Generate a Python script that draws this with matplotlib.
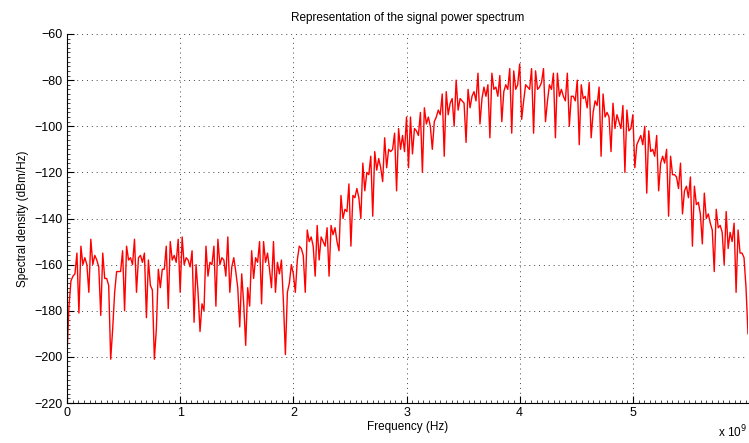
#!/usr/bin/env python
# -*- coding: utf-8 -*-
"""Signal power spectrum, MATLAB-like look"""

import numpy as np
import matplotlib
matplotlib.use("Agg")
import matplotlib.pyplot as plt
from matplotlib.ticker import MultipleLocator, FixedLocator


# spectral density, dBm/Hz, one block per GHz
psd_0_1ghz = [-199, -178, -167, -165, -164, -155, -181, -152, -160, -157, -160, -172, -149, -160, -156,
              -158, -161, -182, -155, -166, -166, -169, -201, -188, -172, -163, -163, -163, -154, -180,
              -152, -158, -157, -160, -149, -172, -157, -156, -159, -155, -183, -158, -169, -171, -201,
              -188, -162, -170, -162, -162, -152, -179, -150, -158, -156, -159, -149]
psd_1_2ghz = [-172, -148, -160, -157, -158, -161, -154, -185, -160, -172, -189, -177, -180, -152, -165,
              -159, -160, -152, -178, -149, -160, -157, -158, -165, -148, -172, -161, -157, -163, -170,
              -187, -164, -177, -195, -170, -178, -154, -166, -157, -159, -150, -177, -150, -159, -155,
              -162, -170, -150, -172, -159, -164, -158, -176, -199, -172, -168, -160]
psd_2_3ghz = [-164, -172, -158, -152, -153, -156, -172, -145, -150, -148, -152, -165, -143, -158, -148,
              -150, -152, -144, -165, -143, -147, -144, -150, -154, -130, -140, -136, -137, -125, -152,
              -130, -131, -127, -131, -140, -116, -128, -120, -121, -113, -139, -111, -119, -114, -118,
              -124, -105, -118, -110, -111, -110, -103, -128, -101, -110, -104, -111]
psd_3_4ghz = [-96, -118, -96, -112, -101, -102, -104, -94, -120, -92, -99, -96, -100, -110, -98,
              -96, -93, -95, -86, -113, -85, -95, -90, -88, -100, -80, -93, -88, -89, -90,
              -107, -84, -92, -87, -85, -89, -77, -99, -88, -83, -87, -82, -105, -77, -84,
              -83, -87, -78, -98, -85, -82, -84, -75, -103, -76, -84, -82]
psd_4_5ghz = [-73, -97, -89, -82, -83, -84, -75, -103, -76, -84, -83, -81, -75, -98, -89,
              -82, -84, -77, -105, -77, -87, -84, -87, -89, -77, -100, -87, -87, -89, -80,
              -108, -82, -88, -87, -92, -81, -105, -94, -89, -91, -83, -113, -86, -96, -94,
              -96, -111, -90, -101, -95, -98, -101, -91, -120, -93, -102, -101]
psd_5_6ghz = [-95, -118, -108, -106, -104, -108, -100, -129, -102, -111, -110, -113, -104, -128, -116,
              -113, -116, -110, -139, -113, -121, -121, -122, -127, -116, -138, -128, -126, -131, -122,
              -152, -126, -134, -133, -138, -151, -129, -140, -138, -142, -145, -163, -136, -144, -143,
              -146, -160, -137, -153, -146, -150, -142, -172, -145, -155, -155, -157, -170, -190]

freq_step = 1e9 / 57  # Hz between samples
x_ticks = [0, 1e9, 2e9, 3e9, 4e9, 5e9]
x_tick_labels = ["0", "1", "2", "3", "4", "5"]
y_ticks = [-220, -200, -180, -160, -140, -120, -100, -80, -60]


def main():
    psd = np.array(psd_0_1ghz + psd_1_2ghz + psd_2_3ghz + psd_3_4ghz + psd_4_5ghz + psd_5_6ghz)
    freq = np.arange(len(psd)) * freq_step

    plt.rcParams["font.family"] = ["Liberation Sans", "DejaVu Sans"]
    plt.rcParams["font.size"] = 9

    fig = plt.figure(figsize=(7.49, 4.43), dpi=100)
    ax = fig.add_axes([67 / 749, 40 / 443, 681 / 749, 369 / 443])

    ax.plot(freq, psd, color="red", linewidth=1.0)

    ax.set_xlim(0, freq[-1])
    ax.set_ylim(-220, -60)
    ax.xaxis.set_major_locator(FixedLocator(x_ticks))
    ax.set_xticklabels(x_tick_labels)
    ax.yaxis.set_major_locator(FixedLocator(y_ticks))
    ax.set_yticklabels(["\u2212" + str(abs(v)) for v in y_ticks])
    ax.xaxis.set_minor_locator(MultipleLocator(0.05e9))
    ax.yaxis.set_minor_locator(MultipleLocator(2))

    ax.tick_params(which="major", direction="in", length=5, width=0.8, labelsize=9, pad=3)
    ax.tick_params(which="minor", direction="in", length=2.5, width=0.5)

    ax.grid(True, which="major", color="#444444", linestyle=(0, (1, 4)), linewidth=0.7)
    for side in ["top", "right"]:
        ax.spines[side].set_visible(False)
    for side in ["left", "bottom"]:
        ax.spines[side].set_linewidth(0.8)

    ax.set_title("Representation of the signal power spectrum", fontsize=8.5, pad=9)
    ax.set_xlabel("Frequency (Hz)", fontsize=8.5, labelpad=1)
    ax.set_ylabel("Spectral density (dBm/Hz)", fontsize=8.5, labelpad=4)
    fig.text(0.958, 0.012, r"x 10$^9$", fontsize=8.5)

    fig.savefig("out.png", dpi=100)


if __name__ == "__main__":
    main()
